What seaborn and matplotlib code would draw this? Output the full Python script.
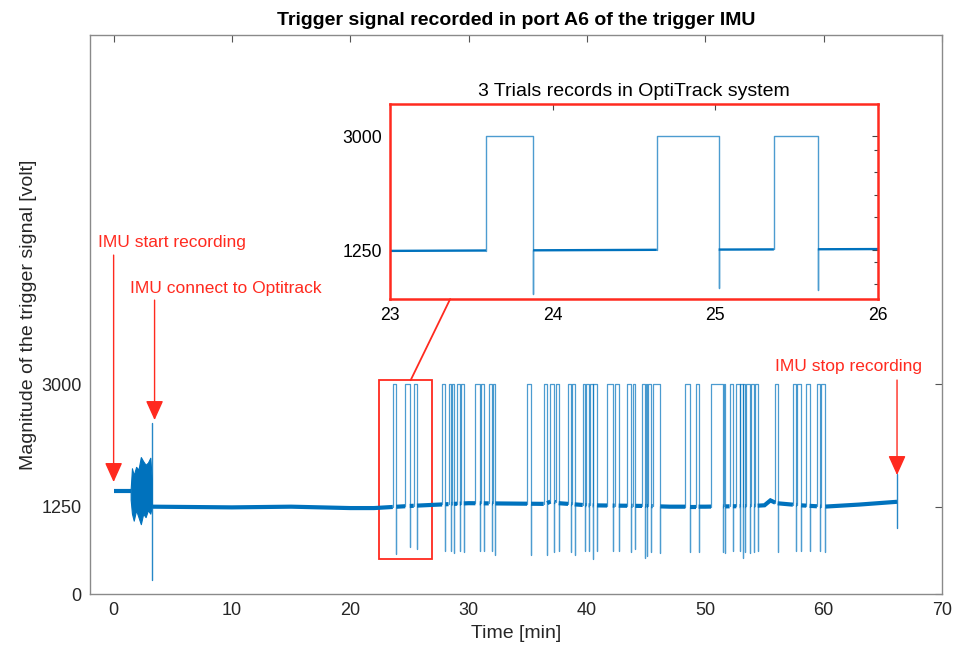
import numpy as np
import pandas as pd
import matplotlib
matplotlib.use("Agg")
import matplotlib.pyplot as plt
import seaborn as sns
from matplotlib.patches import Rectangle, ConnectionPatch
from matplotlib.ticker import FixedLocator

sns.set_theme(style="white")
plt.rcParams["font.family"] = ["Liberation Sans", "DejaVu Sans"]

BLUE = "#0072BD"
RED = "#FF2A1F"
DARK = "#262626"

# ---------------- data ----------------
start_t = [0.0, 1.44]
start_v = [1480, 1480]

burst_t = [1.44, 1.55, 1.7, 1.9, 2.1, 2.3, 2.5, 2.7, 2.9, 3.1, 3.22]
burst_hi = [1500, 1800, 1700, 1820, 1780, 1960, 1900, 1850, 1880, 1950, 1650]
burst_lo = [1350, 1150, 1050, 1200, 1100, 1000, 1150, 1100, 1200, 1150, 1250]

spike_t = [3.25, 3.25]
spike_v = [2450, 200]

base_t = [3.3, 10, 15, 20, 22, 25, 30, 36.5, 37.0, 37.6, 40, 45, 47, 50,
          54, 55, 55.5, 56, 58, 60, 63, 66.2]
base_v = [1250, 1240, 1250, 1230, 1230, 1260, 1300, 1290, 1330, 1300, 1270,
          1260, 1250, 1250, 1260, 1270, 1340, 1300, 1270, 1250, 1280, 1320]

end_t = [66.2, 66.2]
end_v = [1720, 940]

pulse_start = [23.59, 24.64, 25.36, 27.76, 28.30, 28.62, 29.03, 29.35, 30.57,
               31.05, 31.70, 32.05, 34.94, 36.34, 36.91, 37.35, 38.40, 38.75,
               39.64, 39.95, 40.22, 40.55, 41.70, 42.34, 43.39, 43.85, 44.65,
               45.00, 45.15, 45.55, 48.31, 49.24, 50.48, 51.55, 52.05, 52.62,
               52.95, 53.22, 53.45, 53.85, 54.20, 55.91, 57.40, 57.75, 58.53,
               59.43, 59.78]
pulse_end = [23.88, 25.02, 25.63, 28.04, 28.55, 28.75, 29.25, 29.59, 30.94,
             31.28, 31.98, 32.26, 35.27, 36.63, 37.25, 37.61, 38.68, 38.96,
             39.86, 40.14, 40.48, 40.85, 42.17, 42.68, 43.75, 44.09, 44.93,
             45.07, 45.44, 46.20, 48.68, 49.43, 51.49, 51.69, 52.33, 52.90,
             53.18, 53.38, 53.80, 54.14, 54.42, 56.11, 57.69, 58.10, 58.81,
             59.71, 60.14]
pulse_dip = [573, 669, 645, 620, 620, 580, 620, 600, 620, 620, 620, 560, 560,
             560, 600, 620, 600, 560, 620, 620, 500, 620, 620, 620, 600, 640,
             520, 540, 600, 580, 600, 600, 600, 580, 620, 620, 520, 600, 580,
             600, 620, 600, 620, 620, 620, 620, 600]
PULSE_HIGH = 3000

main_xticks = [0, 10, 20, 30, 40, 50, 60, 70]
main_yticks = [0, 1250, 3000]
inset_xticks = [23, 24, 25, 26]
inset_yticks = [1250, 3000]


def lvl(t):
    return float(np.interp(t, base_t, base_v))


def build_rows(t0, t1):
    rows = []
    seg = 0
    cur = t0
    for s, e, d in zip(pulse_start, pulse_end, pulse_dip):
        if e < t0 or s > t1:
            continue
        pts = [(cur, lvl(cur))] + [(t, v) for t, v in zip(base_t, base_v) if cur < t < s] + [(s, lvl(s))]
        for t, v in pts:
            rows.append(("base", seg, t, v))
        seg += 1
        for t, v in [(s, lvl(s)), (s, PULSE_HIGH), (e, PULSE_HIGH), (e, d), (e, lvl(e))]:
            rows.append(("pulse", seg, t, v))
        seg += 1
        cur = e
    pts = [(cur, lvl(cur))] + [(t, v) for t, v in zip(base_t, base_v) if cur < t < t1] + [(t1, lvl(t1))]
    for t, v in pts:
        rows.append(("base", seg, t, v))
    return pd.DataFrame(rows, columns=["kind", "seg", "t", "v"])


main_df = build_rows(3.3, 66.2)
inset_df = build_rows(22.9, 26.1)

# ---------------- figure ----------------
fig = plt.figure(figsize=(9.58, 6.49), dpi=100)
ax = fig.add_axes([0.0939, 0.0847, 0.8894, 0.8614])


def draw_signal(a, df, base_lw, pulse_lw):
    sns.lineplot(data=df[df.kind == "base"], x="t", y="v", units="seg",
                 estimator=None, sort=False, color=BLUE, lw=base_lw, ax=a,
                 legend=False, solid_capstyle="butt", solid_joinstyle="miter")
    sns.lineplot(data=df[df.kind == "pulse"], x="t", y="v", units="seg",
                 estimator=None, sort=False, color=BLUE, lw=pulse_lw, alpha=0.7,
                 ax=a, legend=False)


draw_signal(ax, main_df, 3.0, 0.9)
sns.lineplot(x=start_t, y=start_v, color=BLUE, lw=3.0, ax=ax, legend=False,
             solid_capstyle="butt")
ax.fill_between(burst_t, burst_lo, burst_hi, color=BLUE, lw=0.8)
ax.plot(spike_t, spike_v, color=BLUE, lw=1.0, alpha=0.85)
ax.plot(end_t, end_v, color=BLUE, lw=1.0, alpha=0.85)

ax.set_xlim(-2, 70)
ax.set_ylim(0, 8000)
ax.set_xticks(main_xticks)
ax.set_yticks(main_yticks)
ax.tick_params(direction="in", top=True, right=True, length=5, width=0.8,
               color="#555555", labelsize=13, labelcolor=DARK, pad=6)
for sp in ax.spines.values():
    sp.set_color("#8a8a8a")
    sp.set_linewidth(1.0)
ax.set_xlabel("Time [min]", fontsize=14, color=DARK, labelpad=4)
ax.set_ylabel("Magnitude of the trigger signal [volt]", fontsize=14,
              color=DARK, labelpad=3)
ax.set_title("Trigger signal recorded in port A6 of the trigger IMU",
             fontsize=14, fontweight="bold", color="black", pad=7)

# annotations
arrow_kw = dict(arrowstyle="-|>,head_length=1.0,head_width=0.45",
                color=RED, lw=1.0, shrinkA=0, shrinkB=0)
ax.text(-1.35, 5036, "IMU start recording", color=RED, fontsize=12.5, va="center")
ax.annotate("", xy=(0, 1602), xytext=(0, 4850), arrowprops=arrow_kw)
ax.text(1.35, 4378, "IMU connect to Optitrack", color=RED, fontsize=12.5, va="center")
ax.annotate("", xy=(3.46, 2489), xytext=(3.46, 4206), arrowprops=arrow_kw)
ax.text(55.9, 3262, "IMU stop recording", color=RED, fontsize=12.5, va="center")
ax.annotate("", xy=(66.2, 1702), xytext=(66.2, 3062), arrowprops=arrow_kw)

ax.add_patch(Rectangle((22.45, 500), 4.47, 2560, fill=False, ec=RED, lw=1.3))

# inset
axi = fig.add_axes([0.4071, 0.5393, 0.5094, 0.3005])
draw_signal(axi, inset_df, 1.7, 1.0)
axi.set_xlim(23, 26)
axi.set_ylim(500, 3500)
axi.set_xticks(inset_xticks)
axi.set_yticks(inset_yticks)
axi.yaxis.set_minor_locator(FixedLocator([725, 1073, 1754, 2107, 2450, 2788]))
axi.tick_params(which="both", direction="in", top=True, right=True, length=4,
                width=0.8, color="#444444", labelsize=12.7, labelcolor="black", pad=6)
axi.tick_params(which="minor", length=3)
axi.set_xlabel("")
axi.set_ylabel("")
for sp in axi.spines.values():
    sp.set_color(RED)
    sp.set_linewidth(1.8)
axi.set_title("3 Trials records in OptiTrack system", fontsize=14, color="black", pad=6)

con = ConnectionPatch(xyA=(25.1, 3060), coordsA=ax.transData,
                      xyB=(23.37, 500), coordsB=axi.transData,
                      color=RED, lw=1.3)
fig.add_artist(con)

fig.savefig("out.png", dpi=100)
